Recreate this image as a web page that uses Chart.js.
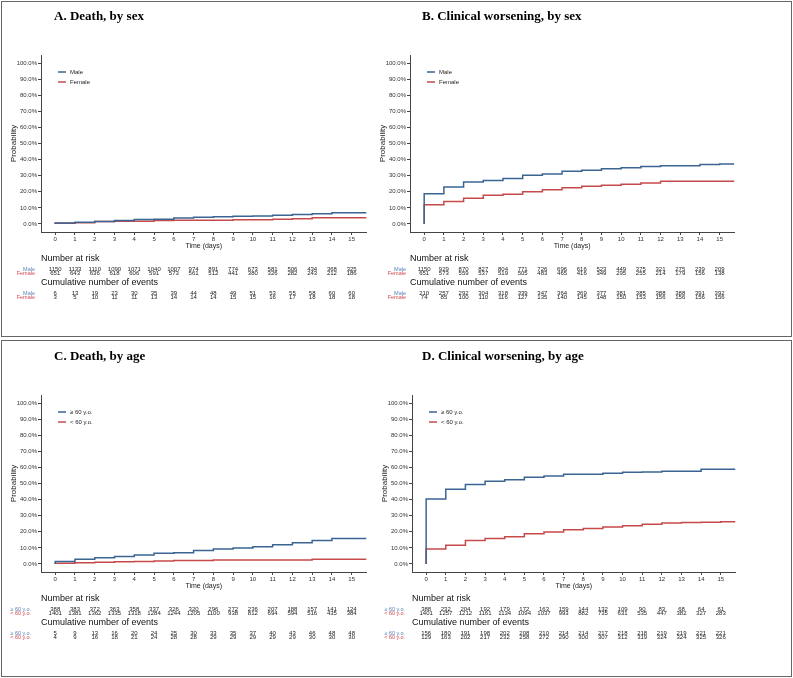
<!DOCTYPE html>
<html>
<head>
<meta charset="utf-8">
<script src="https://cdn.jsdelivr.net/npm/chart.js@4.4.1/dist/chart.umd.min.js"></script>
<style>
  body { margin: 0; background: #fff; }
  #wrap { position: relative; width: 793px; height: 678px; overflow: hidden; }
  canvas { position: absolute; }
  .box { position: absolute; border: 1px solid #666; box-sizing: border-box; }
</style>
</head>
<body>
<div id="wrap">
  <div class="box" style="left:1px; top:1px; width:791px; height:336px;"></div>
  <div class="box" style="left:1px; top:340px; width:791px; height:337px;"></div>
  <canvas id="chartA" width="372" height="336" style="left:0; top:0;"></canvas>
  <canvas id="chartB" width="421" height="336" style="left:372px; top:0;"></canvas>
  <canvas id="chartC" width="372" height="338" style="left:0; top:340px;"></canvas>
  <canvas id="chartD" width="421" height="338" style="left:372px; top:340px;"></canvas>
</div>
<script>
// time points (days) and axis ticks
const days = [0, 1, 2, 3, 4, 5, 6, 7, 8, 9, 10, 11, 12, 13, 14, 15];
const yTicks = [0, 10, 20, 30, 40, 50, 60, 70, 80, 90, 100];
const followUpEnd = 15.75;

// A. Death, by sex (cumulative probability, %)
const deathMale = [0.6, 1.0, 1.6, 2.1, 2.7, 3.0, 3.7, 4.1, 4.5, 4.8, 5.0, 5.4, 5.8, 6.4, 7.0, 7.0];
const deathFemale = [0.4, 0.8, 1.6, 1.7, 1.7, 2.1, 2.3, 2.3, 2.3, 2.6, 2.6, 2.9, 3.2, 3.8, 3.8, 3.8];
const riskAMale = [1150, 1133, 1110, 1090, 1071, 1040, 1007, 974, 891, 774, 673, 581, 506, 434, 368, 325];
const riskAFemale = [651, 643, 636, 618, 606, 591, 573, 561, 512, 441, 380, 326, 282, 243, 212, 186];
const eventsAMale = [6, 13, 19, 23, 30, 35, 39, 44, 48, 49, 51, 53, 55, 58, 60, 60];
const eventsAFemale = [3, 5, 10, 11, 11, 13, 14, 14, 14, 15, 15, 16, 17, 18, 18, 18];

// B. Clinical worsening, by sex
const worseMale = [18.7, 23.0, 26.0, 27.0, 28.3, 30.3, 31.0, 32.8, 33.4, 34.3, 34.9, 35.7, 36.2, 36.2, 36.9, 37.2];
const worseFemale = [12.0, 14.0, 16.0, 17.8, 18.5, 20.0, 21.2, 22.5, 23.4, 24.0, 24.7, 25.5, 26.5, 26.5, 26.5, 26.5];
const riskBMale = [1150, 929, 870, 827, 804, 771, 726, 696, 616, 523, 449, 375, 321, 275, 239, 209];
const riskBFemale = [651, 573, 559, 537, 519, 505, 483, 465, 416, 349, 295, 255, 214, 179, 156, 138];
const eventsBMale = [210, 257, 292, 304, 318, 339, 347, 364, 369, 377, 381, 385, 388, 388, 391, 392];
const eventsBFemale = [74, 85, 100, 110, 116, 127, 135, 140, 145, 148, 150, 153, 156, 156, 156, 156];

// C. Death, by age
const deathOld = [1.5, 2.9, 3.9, 4.7, 5.6, 6.6, 7.0, 8.4, 9.3, 9.9, 10.7, 11.9, 13.2, 14.6, 15.8, 15.8];
const deathYoung = [0.4, 0.8, 1.1, 1.4, 1.6, 1.9, 2.2, 2.2, 2.4, 2.4, 2.4, 2.4, 2.4, 2.9, 2.9, 2.9];
const riskCOld = [388, 383, 372, 363, 358, 337, 326, 320, 296, 272, 236, 207, 188, 157, 141, 124];
const riskCYoung = [1401, 1381, 1362, 1335, 1318, 1284, 1244, 1205, 1100, 938, 812, 694, 594, 516, 435, 384];
const eventsCOld = [5, 9, 13, 16, 20, 24, 25, 30, 33, 35, 37, 40, 43, 46, 48, 48];
const eventsCYoung = [4, 9, 16, 18, 21, 24, 28, 28, 29, 29, 29, 29, 29, 30, 30, 30];

// D. Clinical worsening, by age
const worseOld = [40.3, 46.5, 49.4, 51.4, 52.3, 53.9, 54.7, 55.7, 55.7, 56.4, 57.0, 57.2, 57.6, 57.6, 58.8, 58.8];
const worseYoung = [9.3, 11.7, 14.5, 15.8, 16.9, 18.7, 19.8, 21.2, 22.0, 23.0, 23.7, 24.7, 25.5, 25.7, 25.9, 26.3];
const riskDOld = [388, 232, 204, 192, 179, 172, 163, 159, 144, 132, 109, 90, 83, 68, 64, 61];
const riskDYoung = [1401, 1257, 1212, 1161, 1134, 1094, 1037, 993, 882, 735, 631, 535, 447, 382, 327, 283];
const eventsDOld = [156, 180, 191, 198, 202, 208, 210, 214, 214, 217, 218, 218, 219, 219, 221, 221];
const eventsDYoung = [129, 163, 202, 217, 232, 258, 272, 290, 300, 307, 312, 319, 324, 324, 325, 326];

const sexGroups = ['Male', 'Female'];
const ageGroups = ['\u2265 60 y.o.', '< 60 y.o.'];

const blue = '#3a6592';
const red = '#c64a4a';
const blueText = '#5d82b8';
const redText = '#d24a4f';
const sansFont = '"Liberation Sans", Arial, sans-serif';

function stepData(values) {
    const pts = [{ x: 0, y: 0 }];
    days.forEach((d, i) => pts.push({ x: d, y: values[i] }));
    pts.push({ x: followUpEnd, y: values[values.length - 1] });
    return pts;
}

// draws titles, legend and the two tables under each plot
const panelText = {
    id: 'panelText',
    afterDraw(chart, args, opts) {
        const ctx = chart.ctx;
        const area = chart.chartArea;
        const xs = chart.scales.x;
        ctx.save();

        ctx.fillStyle = '#000';
        ctx.textAlign = 'left';
        ctx.textBaseline = 'alphabetic';
        ctx.font = 'bold 13px "Liberation Serif", "Times New Roman", serif';
        ctx.fillText(opts.title, opts.titleX, 20);

        // axis titles
        ctx.fillStyle = '#222';
        ctx.font = '8px ' + sansFont;
        ctx.textAlign = 'center';
        ctx.textBaseline = 'middle';
        ctx.save();
        ctx.translate(area.left - 27, (area.top + area.bottom) / 2);
        ctx.rotate(-Math.PI / 2);
        ctx.fillText('Probability', 0, 0);
        ctx.restore();
        ctx.font = '7px ' + sansFont;
        ctx.fillText('Time (days)', (area.left + area.right) / 2, 246);

        // legend
        const colors = [blue, red];
        opts.groups.forEach((g, i) => {
            const y = 72 + 10 * i;
            ctx.strokeStyle = colors[i];
            ctx.lineWidth = 1.5;
            ctx.beginPath();
            ctx.moveTo(area.left + 17, y);
            ctx.lineTo(area.left + 25, y);
            ctx.stroke();
            ctx.fillStyle = '#222';
            ctx.font = '6px ' + sansFont;
            ctx.textAlign = 'left';
            ctx.fillText(g, area.left + 29, y);
        });

        // tables
        const labelColors = [blueText, redText];
        const drawTable = (heading, headY, rows) => {
            ctx.fillStyle = '#111';
            ctx.font = '9px ' + sansFont;
            ctx.textAlign = 'left';
            ctx.fillText(heading, area.left, headY);
            rows.forEach((row, r) => {
                const y = headY + 10 + 4.7 * r;
                ctx.font = '5.5px ' + sansFont;
                ctx.textAlign = 'right';
                ctx.fillStyle = labelColors[r];
                ctx.fillText(opts.groups[r], area.left - opts.labelGap, y);
                ctx.font = '6px ' + sansFont;
                ctx.textAlign = 'center';
                ctx.fillStyle = '#222';
                row.forEach((v, j) => ctx.fillText(String(v), xs.getPixelForValue(days[j]), y));
            });
        };
        drawTable('Number at risk', 259, opts.risk);
        drawTable('Cumulative number of events', 283, opts.events);

        ctx.restore();
    }
};

function makePanel(id, cfg) {
    const canvas = document.getElementById(id);
    return new Chart(canvas.getContext('2d'), {
        type: 'line',
        data: {
            datasets: cfg.series.map((vals, i) => ({
                label: cfg.groups[i],
                data: stepData(vals),
                borderColor: i === 0 ? blue : red,
                borderWidth: 1.5,
                pointRadius: 0,
                stepped: true,
                fill: false
            }))
        },
        options: {
            responsive: false,
            animation: false,
            events: [],
            layout: {
                padding: {
                    left: 0,
                    top: 55,
                    right: canvas.width - cfg.plotRight,
                    bottom: canvas.height - 232 - 14
                }
            },
            scales: {
                x: {
                    type: 'linear',
                    min: -0.72,
                    max: followUpEnd,
                    afterBuildTicks: s => { s.ticks = days.map(v => ({ value: v })); },
                    afterFit: s => { s.height = 14; },
                    grid: { drawOnChartArea: false, drawTicks: true, tickLength: 3, color: '#444' },
                    border: { display: true, color: '#444', width: 1 },
                    ticks: { padding: 1, color: '#333', font: { size: 6, family: sansFont } }
                },
                y: {
                    type: 'linear',
                    min: -5,
                    max: 105,
                    afterBuildTicks: s => { s.ticks = yTicks.map(v => ({ value: v })); },
                    afterFit: s => { s.width = cfg.plotLeft; },
                    grid: { drawOnChartArea: false, drawTicks: true, tickLength: 3, color: '#444' },
                    border: { display: true, color: '#444', width: 1 },
                    ticks: {
                        padding: 1,
                        color: '#333',
                        font: { size: 6, family: sansFont },
                        callback: v => v.toFixed(1) + '%'
                    }
                }
            },
            plugins: {
                legend: { display: false },
                tooltip: { enabled: false },
                panelText: {
                    title: cfg.title,
                    titleX: cfg.titleX,
                    groups: cfg.groups,
                    risk: cfg.risk,
                    events: cfg.events,
                    labelGap: cfg.labelGap
                }
            }
        },
        plugins: [panelText]
    });
}

makePanel('chartA', {
    title: 'A. Death, by sex', titleX: 54, plotLeft: 41, plotRight: 366.5, labelGap: 6,
    groups: sexGroups, series: [deathMale, deathFemale],
    risk: [riskAMale, riskAFemale], events: [eventsAMale, eventsAFemale]
});
makePanel('chartB', {
    title: 'B. Clinical worsening, by sex', titleX: 50, plotLeft: 38, plotRight: 362.4, labelGap: 4,
    groups: sexGroups, series: [worseMale, worseFemale],
    risk: [riskBMale, riskBFemale], events: [eventsBMale, eventsBFemale]
});
makePanel('chartC', {
    title: 'C. Death, by age', titleX: 54, plotLeft: 41, plotRight: 366.5, labelGap: 10,
    groups: ageGroups, series: [deathOld, deathYoung],
    risk: [riskCOld, riskCYoung], events: [eventsCOld, eventsCYoung]
});
makePanel('chartD', {
    title: 'D. Clinical worsening, by age', titleX: 50, plotLeft: 40, plotRight: 363.5, labelGap: 7,
    groups: ageGroups, series: [worseOld, worseYoung],
    risk: [riskDOld, riskDYoung], events: [eventsDOld, eventsDYoung]
});
</script>
</body>
</html>
